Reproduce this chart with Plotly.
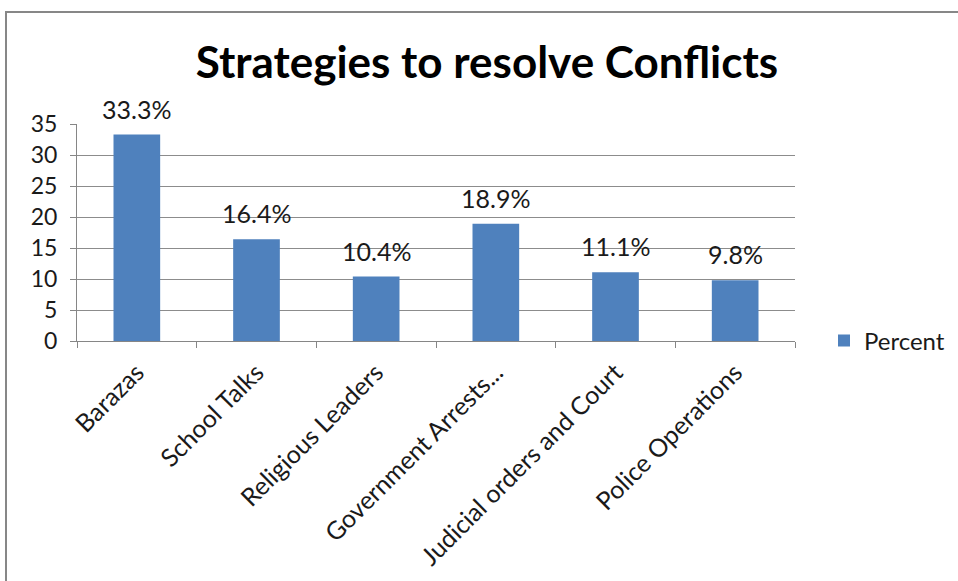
import plotly.graph_objects as go

categories = ["Barazas", "School Talks", "Religious Leaders", "Government Arrests...",
              "Judicial orders and Court", "Police Operations"]
percent = [33.3, 16.4, 10.4, 18.9, 11.1, 9.8]
y_ticks = [0, 5, 10, 15, 20, 25, 30, 35]

W, H = 958, 581
L, R, T, B = 77, 163, 124, 240
pw, ph = W - L - R, H - T - B

FONT = "Lato, Calibri, Carlito, sans-serif"
TXT = "#1a1a1a"

fig = go.Figure(go.Bar(
    x=categories, y=percent, name="Percent",
    marker=dict(color="#4F81BD", line=dict(width=0)),
))

# value labels above each bar
for c, v in zip(categories, percent):
    fig.add_annotation(x=c, y=v, text=f"{v}%", showarrow=False,
                       yanchor="bottom", yshift=9,
                       font=dict(size=25, family=FONT, color=TXT))

# outer chart frame (partly off-page)
fx0 = (6 - L) / pw
fy1 = (H - B - 12) / ph
fig.add_shape(type="rect", xref="paper", yref="paper",
              x0=fx0, x1=2.0, y0=-2.0, y1=fy1,
              line=dict(color="#878787", width=2), fillcolor="rgba(0,0,0,0)")

fig.update_layout(
    width=W, height=H, margin=dict(l=L, r=R, t=T, b=B, autoexpand=False),
    paper_bgcolor="white", plot_bgcolor="white",
    font=dict(family=FONT, color=TXT, size=23),
    title=dict(text="<b>Strategies to resolve Conflicts</b>", xref="container", yref="container",
               x=487 / W, xanchor="center", y=1 - 63 / H, yanchor="middle",
               font=dict(size=44, family=FONT, color="black")),
    bargap=0.61,
    showlegend=True,
    legend=dict(x=(824 - L) / pw, xanchor="left", y=0, yanchor="middle",
                font=dict(size=24, family=FONT, color=TXT), bgcolor="rgba(0,0,0,0)"),
    xaxis=dict(showline=True, linecolor="#868686", linewidth=1, ticks="outside",
               tickson="boundaries", ticklen=6, tickcolor="#868686", tickangle=-45,
               ticklabelstandoff=6,
               tickfont=dict(size=25, family=FONT, color=TXT), showgrid=False),
    yaxis=dict(range=[0, 35], tickvals=y_ticks, showline=True, linecolor="#868686",
               linewidth=1, ticks="outside", ticklen=6, tickcolor="#868686",
               ticklabelstandoff=8,
               showgrid=True, gridcolor="#8c8c8c", gridwidth=1, zeroline=False,
               tickfont=dict(size=23, family=FONT, color=TXT)),
)

fig.write_html("out.html")
